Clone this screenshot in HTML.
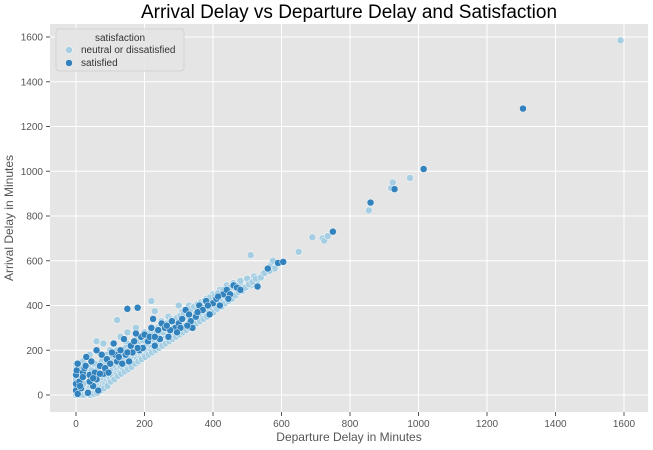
<!DOCTYPE html>
<html><head><meta charset="utf-8"><style>
body{margin:0;background:#fff;font-family:"Liberation Sans",sans-serif}
svg text{font-family:"Liberation Sans",sans-serif}
</style></head><body>
<svg id="c" width="653" height="445">
<rect x="50" y="24" width="598" height="388" fill="#e5e5e5"/>
<g id="grid"></g><g id="pts"></g><g id="ax"></g>
<text x="349" y="18" text-anchor="middle" font-size="19" fill="#000">Arrival Delay vs Departure Delay and Satisfaction</text>
<text x="349" y="441" text-anchor="middle" font-size="12" fill="#555">Departure Delay in Minutes</text>
<text x="13" y="218" text-anchor="middle" font-size="12" fill="#555" transform="rotate(-90 13 218)">Arrival Delay in Minutes</text>
<g>
<rect x="56" y="29" width="128" height="42" rx="3" fill="#e5e5e5" stroke="#d0d0d0" opacity="0.9"/>
<text x="120" y="41" text-anchor="middle" font-size="10" fill="#333">satisfaction</text>
<circle cx="69" cy="50" r="3.5" fill="#a6cee3" stroke="#fff" stroke-width="0.5"/>
<text x="81" y="53" font-size="10" fill="#333">neutral or dissatisfied</text>
<circle cx="69" cy="63" r="3.5" fill="#3182bd" stroke="#fff" stroke-width="0.5"/>
<text x="81" y="66" font-size="10" fill="#333">satisfied</text>
</g>
</svg>
<script>
const xTicks=[0,200,400,600,800,1000,1200,1600,1400];
const yTicks=[0,200,400,600,800,1000,1200,1400,1600];
const neutralPts=[[0,0],[2,10],[5,20],[0,40],[3,60],[0,80],[2,100],[0,120],[1,140],[10,5],[15,25],[20,10],[25,40],[30,20],[35,55],[40,30],[45,70],[50,45],[55,60],[60,40],[65,80],[70,55],[75,90],[80,70],[85,100],[90,80],[95,120],[100,95],[105,110],[110,90],[115,130],[120,110],[125,140],[130,120],[135,150],[140,130],[145,160],[150,135],[155,175],[160,150],[165,185],[170,160],[175,195],[180,170],[185,210],[190,180],[195,220],[200,190],[205,230],[210,200],[215,240],[220,210],[225,250],[230,220],[235,260],[240,230],[245,270],[250,240],[255,280],[260,250],[265,295],[270,260],[275,300],[280,270],[285,310],[290,280],[295,320],[300,290],[305,330],[310,300],[315,345],[320,310],[325,355],[330,320],[340,360],[345,335],[350,370],[355,345],[360,385],[365,355],[370,395],[375,365],[380,400],[390,380],[395,420],[400,390],[405,425],[410,400],[420,440],[425,415],[430,455],[440,430],[445,470],[455,440],[460,480],[470,455],[480,500],[490,475],[500,520],[510,490],[520,530],[530,515],[545,540],[560,560],[570,580],[575,600],[580,565],[510,625],[650,640],[690,705],[720,700],[725,690],[735,710],[750,730],[855,825],[920,925],[925,950],[975,970],[1590,1585],[120,335],[220,420],[230,375],[60,240],[80,230],[100,200],[40,180],[20,150],[50,130],[150,280],[175,300],[130,260],[300,400],[330,400],[250,330],[270,350],[10,70],[30,100],[60,110],[90,150],[110,170],[140,200],[160,225],[190,250],[210,270],[240,300],[12,30],[22,50],[33,15],[48,20],[58,30],[68,40],[78,50],[88,60],[98,70],[108,80],[118,95],[128,100],[138,115],[148,125],[158,140],[168,145],[178,160],[188,165],[198,175],[208,185],[218,195],[228,205],[238,215],[248,225],[258,235],[268,245],[278,255],[288,265],[298,275],[308,285],[318,295],[328,305],[338,315],[348,325],[358,340],[368,350],[378,360],[388,370],[398,380],[408,395],[418,405],[5,0],[8,12],[18,2],[28,8],[38,2],[45,10],[55,15],[65,25],[75,35],[85,45],[95,55],[70,130],[90,180],[120,200],[150,230],[180,260],[200,280],[220,290],[260,320],[280,340],[310,370],[340,390],[360,410],[380,430],[400,450],[420,470],[440,490],[460,500],[480,510],[0,30],[0,70],[0,110],[8,90],[8,130],[15,115],[25,85],[35,125],[45,110],[55,140],[65,120],[75,150],[85,135],[100,165],[110,150],[125,180],[135,170],[145,210],[155,200],[165,230],[175,220],[185,240],[195,245],[205,255],[215,275],[225,270],[235,285],[245,295],[255,305],[265,320],[275,325],[285,335],[295,345],[305,355],[315,365],[325,375],[335,385],[345,395],[355,405],[365,415],[375,420],[390,435],[405,445],[415,455],[430,470],[450,480],[465,490],[12,0],[22,0],[32,5],[42,0],[52,5],[62,10],[72,20],[82,30],[92,40],[102,60],[112,70],[122,85],[132,95],[142,105],[152,115],[162,125],[172,140],[182,150],[192,160],[202,170],[212,180],[222,190],[232,200],[242,210],[252,220],[262,230],[272,240],[282,250],[292,260],[302,270],[312,280],[322,290],[332,300],[342,310],[352,320],[362,330],[372,340],[382,350],[392,360],[402,370],[412,385],[425,395],[435,410],[445,420],[455,430],[465,445],[475,460],[485,465],[495,480],[505,495],[515,505],[525,520],[540,525],[550,545],[565,555]];
const satisfiedPts=[[0,20],[0,50],[0,90],[2,110],[5,140],[10,60],[15,30],[20,100],[25,120],[30,170],[35,10],[40,90],[45,150],[50,40],[55,100],[60,200],[65,20],[70,130],[75,180],[80,95],[90,160],[100,140],[110,230],[115,180],[120,150],[130,200],[140,250],[145,180],[150,385],[155,150],[160,220],[170,240],[180,390],[185,200],[190,260],[200,270],[210,240],[220,300],[225,340],[230,220],[240,290],[250,320],[260,300],[270,260],[280,330],[290,300],[300,320],[310,340],[320,380],[330,360],[340,300],[350,350],[360,400],[370,380],[380,420],[390,360],[400,410],[410,430],[420,400],[430,450],[440,470],[450,450],[460,490],[470,480],[480,470],[530,485],[560,565],[590,590],[605,595],[750,730],[860,860],[930,920],[1015,1010],[1305,1280],[20,80],[40,60],[60,70],[85,120],[95,100],[125,170],[135,140],[165,190],[195,210],[215,260],[245,250],[275,290],[305,300],[335,330],[5,5],[12,40],[28,130],[50,75],[70,95],[105,190],[175,275],[265,310],[295,280],[325,310],[355,370],[385,400],[415,440],[445,430],[230,260],[180,210],[150,190]];
const X=v=>76+v*(68.5/200), Y=v=>395-v*(44.75/200);
const NS='http://www.w3.org/2000/svg';
const g=document.getElementById('grid'),ax=document.getElementById('ax'),pts=document.getElementById('pts');
function mk(t,a,p){const e=document.createElementNS(NS,t);for(const k in a)e.setAttribute(k,a[k]);p.appendChild(e);return e;}
xTicks.forEach(v=>{const l=mk('line',{x1:X(v),x2:X(v),y1:24,y2:412,stroke:'#fff','stroke-width':1},g);


mk('line',{x1:X(v),x2:X(v),y1:412,y2:416,stroke:'#555'},ax);
const t=mk('text',{x:X(v),y:427,'text-anchor':'middle','font-size':10,fill:'#555'},ax);t.textContent=v;

});
yTicks.forEach(v=>{const l=mk('line',{x1:50,x2:648,y1:Y(v),y2:Y(v),stroke:'#fff','stroke-width':1},g);


mk('line',{x1:46,x2:50,y1:Y(v),y2:Y(v),stroke:'#555'},ax);
const t=mk('text',{x:43,y:Y(v)+3.5,'text-anchor':'end','font-size':10,fill:'#555'},ax);t.textContent=v;

});
function draw(arr,col,name){arr.forEach(p=>{const c=mk('circle',{cx:X(p[0]),cy:Y(p[1]),r:3.5,fill:col,stroke:'#fff','stroke-width':0.5},pts);

});}
draw(neutralPts,'#a6cee3','point-neutral');
draw(satisfiedPts,'#3182bd','point-satisfied');
</script>
</body></html>
